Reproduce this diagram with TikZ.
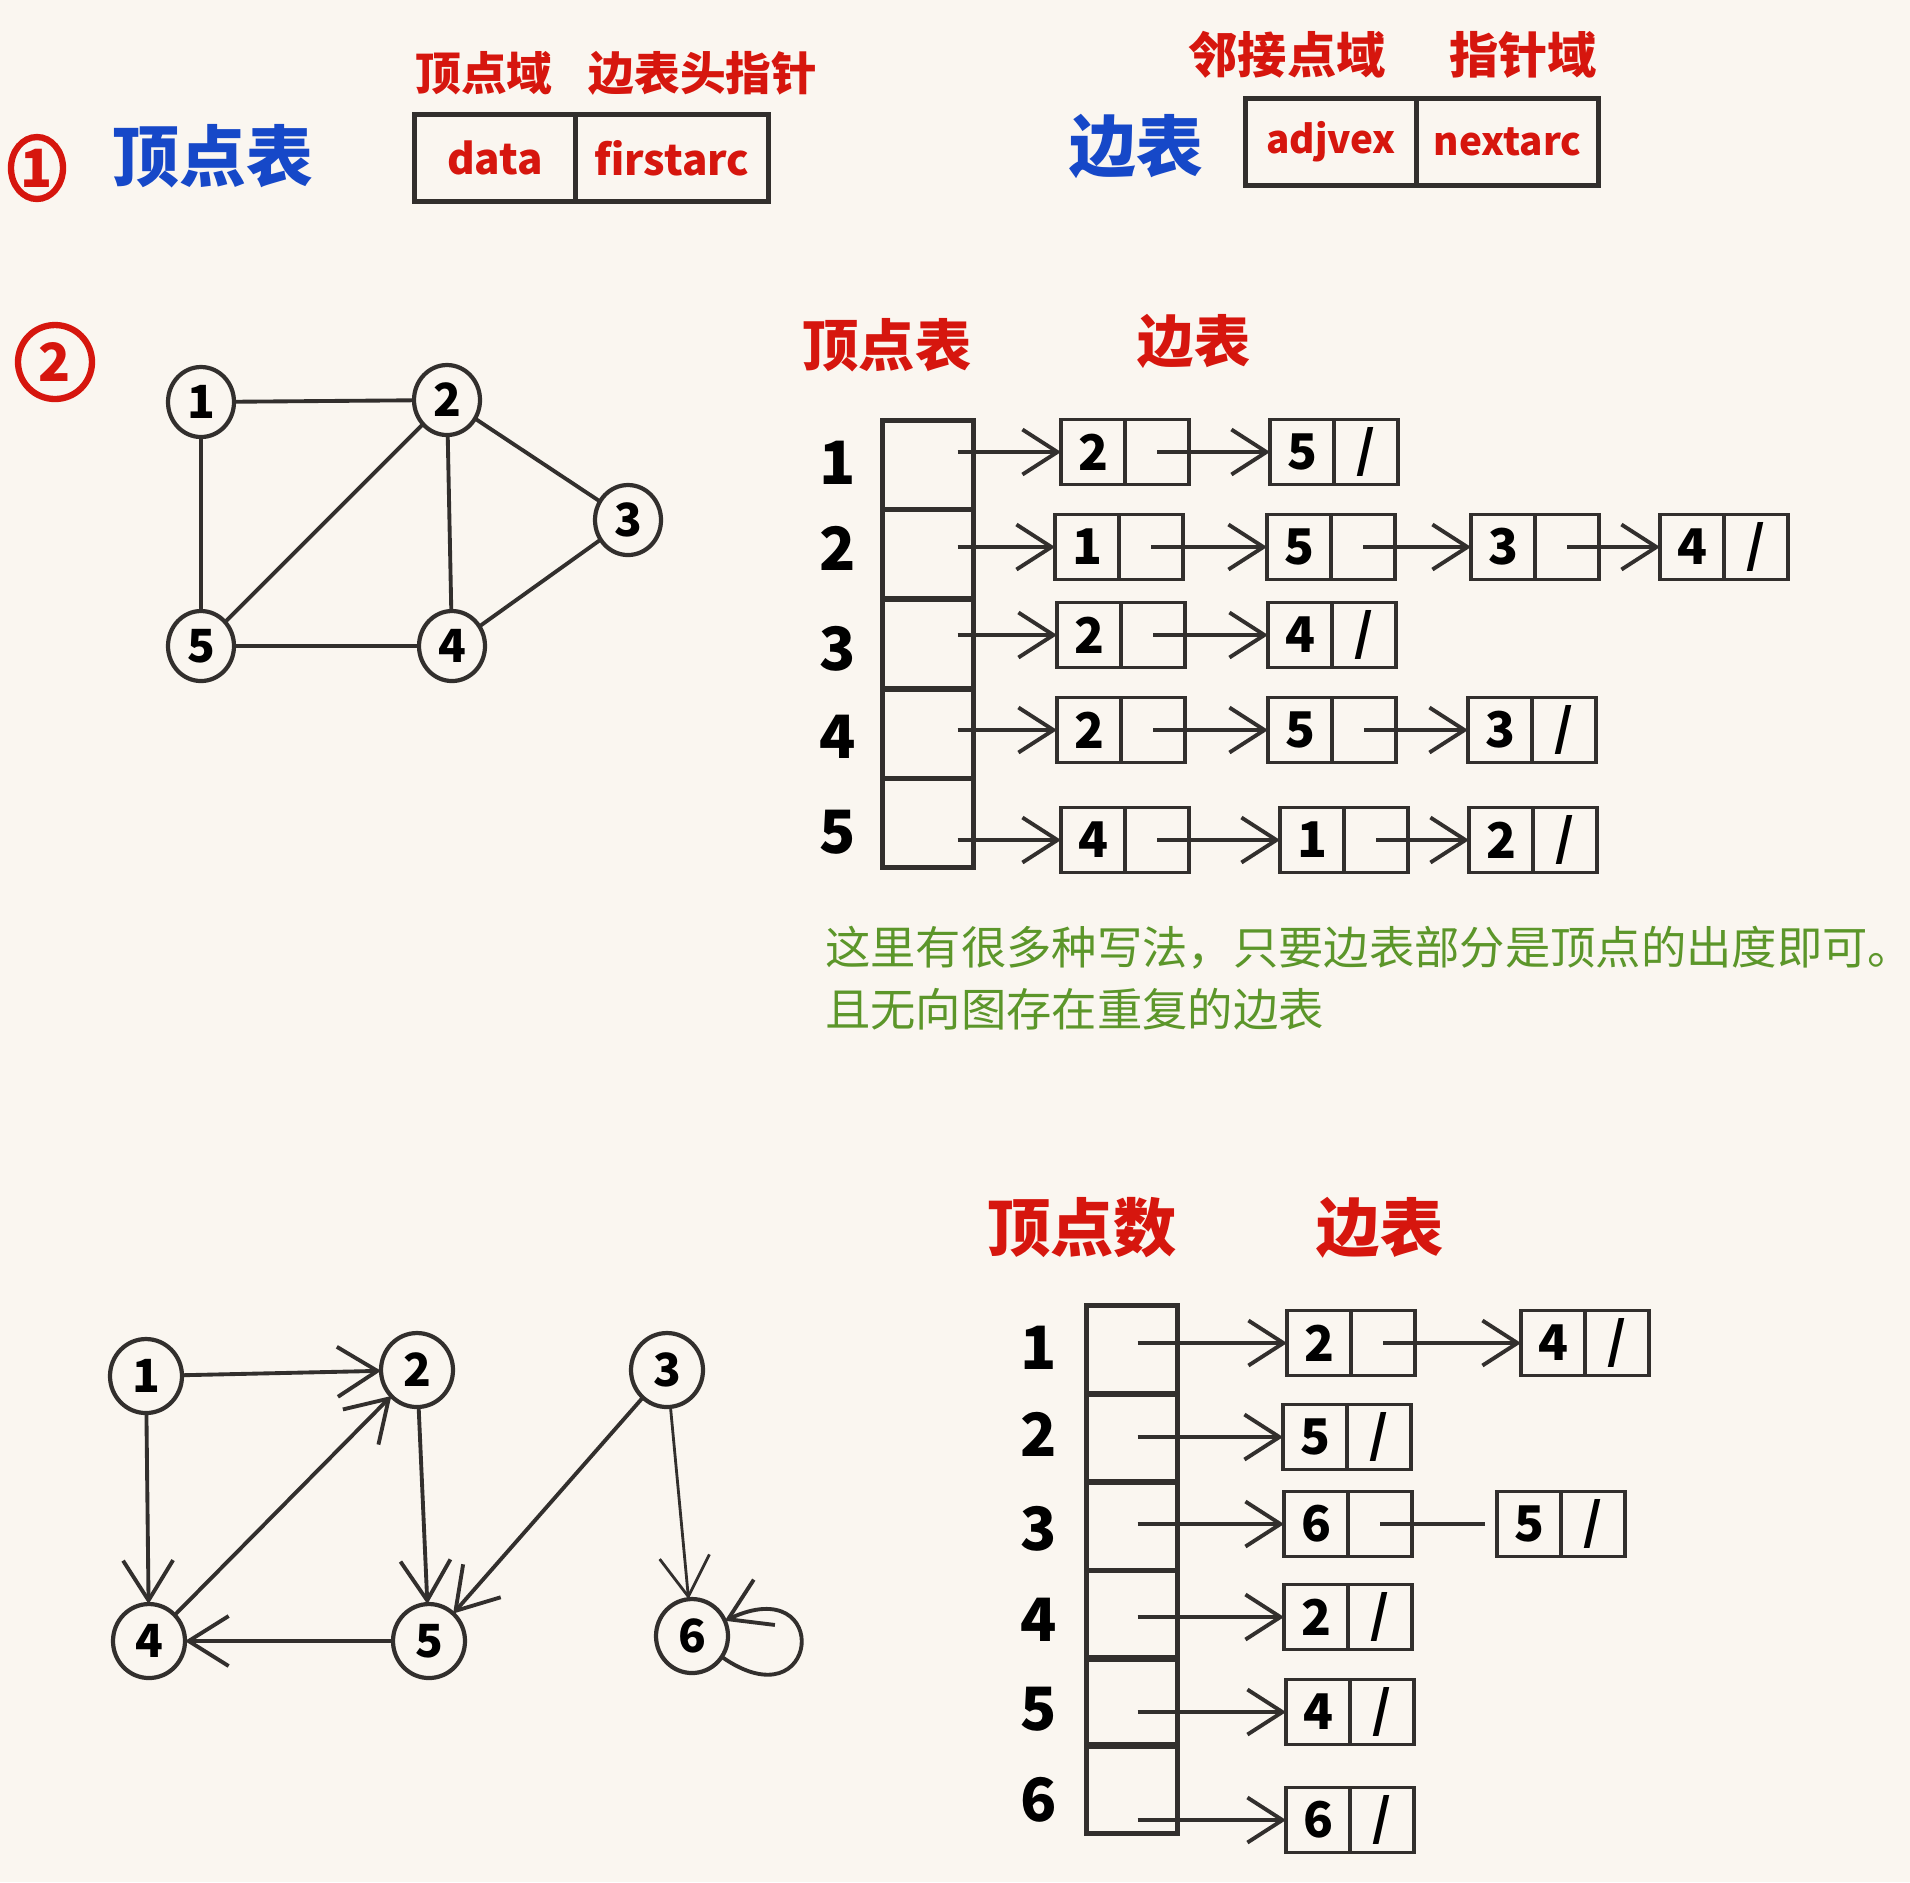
\documentclass[tikz,border=0pt]{standalone}
\usepackage{fontspec}
\setmainfont{Noto Sans CJK SC}
\usepackage{tikz}
\usetikzlibrary{arrows.meta,positioning,shapes.geometric}
\definecolor{Paper}{RGB}{250,246,240}
\definecolor{Ink}{RGB}{50,47,45}
\definecolor{HandRed}{RGB}{214,22,14}
\definecolor{HandBlue}{RGB}{22,72,200}
\definecolor{NoteGreen}{RGB}{92,150,42}
% one arc node: value cell and pointer cell side by side
\newcommand{\arcnode}[4]{%
  \node[tbox] (#1) at (#2) {#3};
  \node[tbox,right=0pt of #1] (#1n) {#4};}

\begin{document}
\begin{tikzpicture}[
  x=0.1mm,y=-0.1mm,
  every node/.style={inner sep=0pt,outer sep=0pt},
  tbox/.style={draw=Ink,line width=1.1pt,minimum width=6.4mm,minimum height=6.5mm,
               font=\fontsize{14}{14}\selectfont\bfseries},
  colcell/.style={draw=Ink,line width=1.2pt,minimum width=9.1mm,minimum height=8.9mm},
  hbox/.style={draw=Ink,line width=1.4pt,minimum height=8.7mm,text=HandRed,
               font=\fontsize{12}{12}\selectfont\bfseries},
  gnode/.style={ellipse,draw=Ink,line width=1.2pt,minimum width=6.6mm,minimum height=7mm,
                font=\fontsize{13}{13}\selectfont\bfseries},
  ring/.style={ellipse,draw=HandRed,line width=1.8pt,text=HandRed,
               font=\fontsize{15}{15}\selectfont\bfseries},
  rowtag/.style={font=\fontsize{17}{17}\selectfont\bfseries},
  redtag/.style={text=HandRed,font=\fontsize{13}{13}\selectfont\bfseries},
  redhead/.style={text=HandRed,font=\fontsize{17}{17}\selectfont\bfseries},
  bluehead/.style={text=HandBlue,font=\fontsize{19}{19}\selectfont\bfseries},
  note/.style={text=NoteGreen,align=left,font=\fontsize{12.9}{17.5}\selectfont},
  link/.style={draw=Ink,line width=1.1pt},
  arr/.style={link,-{Straight Barb[length=3.5mm,width=4.5mm]}},
  darr/.style={link,-{Straight Barb[length=4mm,width=5mm]}}]
  \fill[Paper] (0,0) rectangle (1910,1882);
  \useasboundingbox (0,0) rectangle (1910,1882);

  % part 1: node formats
  \node[ring,minimum width=5.2mm,minimum height=6.2mm] (one) at (37,168) {1};
  \node[bluehead] (vtitle) at (213,156) {顶点表};
  \node[hbox,minimum width=16.1mm] (data) at (495,158) {data};
  \node[hbox,minimum width=19.3mm,right=0pt of data] (firstarc) {firstarc};
  \node[redtag] (vdom) at (484,73) {顶点域};
  \node[redtag] (hptr) at (703,73) {边表头指针};
  \node[bluehead] (etitle) at (1136,146) {边表};
  \node[hbox,minimum width=17.1mm,font=\fontsize{11}{11}\selectfont\bfseries] (adjvex) at (1331,142) {adjvex};
  \node[hbox,minimum width=18.2mm,font=\fontsize{11}{11}\selectfont\bfseries,right=0pt of adjvex] (nextarc) {nextarc};
  \node[redtag,font=\fontsize{14}{14}\selectfont\bfseries] (adom) at (1287,55) {邻接点域};
  \node[redtag,font=\fontsize{14}{14}\selectfont\bfseries] (pdom) at (1523,55) {指针域};

  % part 2: undirected graph
  \node[ring,minimum size=7.4mm] (two) at (55,362) {2};
  \node[gnode] (u1) at (201,402) {1};
  \node[gnode] (u2) at (447,400) {2};
  \node[gnode] (u3) at (628,520) {3};
  \node[gnode] (u4) at (452,646) {4};
  \node[gnode] (u5) at (201,646) {5};
  \draw[link] (u1)--(u2) (u1)--(u5) (u2)--(u5) (u2)--(u4) (u2)--(u3) (u3)--(u4) (u5)--(u4);

  \node[redhead,font=\fontsize{16}{16}\selectfont\bfseries] (vhead) at (887,345) {顶点表};
  \node[redhead,font=\fontsize{16}{16}\selectfont\bfseries] (ehead) at (1194,341) {边表};
  \foreach \i/\y in {1/465,2/554,3/644,4/734,5/823}
    \node[colcell] (v\i) at (928,\y) {};
  \foreach \i/\y in {1/463,2/548,3/649,4/737,5/832}
    \node[rowtag] (l\i) at (838,\y) {\i};
  \arcnode{a11}{1093,452}{2}{}
  \arcnode{a12}{1302,452}{5}{/}
  \arcnode{a21}{1087,547}{1}{}
  \arcnode{a22}{1299,547}{5}{}
  \arcnode{a23}{1503,547}{3}{}
  \arcnode{a24}{1692,547}{4}{/}
  \arcnode{a31}{1089,635}{2}{}
  \arcnode{a32}{1300,635}{4}{/}
  \arcnode{a41}{1089,730}{2}{}
  \arcnode{a42}{1300,730}{5}{}
  \arcnode{a43}{1500,730}{3}{/}
  \arcnode{a51}{1093,840}{4}{}
  \arcnode{a52}{1312,840}{1}{}
  \arcnode{a53}{1501,840}{2}{/}
  \foreach \i in {1,...,5}
    \draw[arr,shorten <=-1.6mm] (v\i.east |- a\i1.west) -- (a\i1.west);
  \draw[arr] (a11n.center) -- (a12.west);
  \draw[arr] (a21n.center) -- (a22.west);
  \draw[arr] (a22n.center) -- (a23.west);
  \draw[arr] (a23n.center) -- (a24.west);
  \draw[arr] (a31n.center) -- (a32.west);
  \draw[arr] (a41n.center) -- (a42.west);
  \draw[arr] (a42n.center) -- (a43.west);
  \draw[arr] (a51n.center) -- (a52.west);
  \draw[arr] (a52n.center) -- (a53.west);

  \node[note,anchor=west] (remark) at (825,978)
    {这里有很多种写法，只要边表部分是顶点的出度即可。\\且无向图存在重复的边表};

  % part 3: directed graph
  \node[gnode,minimum width=7.2mm,minimum height=7.4mm] (d1) at (146,1376) {1};
  \node[gnode,minimum width=7.2mm,minimum height=7.4mm] (d2) at (417,1370) {2};
  \node[gnode,minimum width=7.2mm,minimum height=7.4mm] (d3) at (667,1370) {3};
  \node[gnode,minimum width=7.2mm,minimum height=7.4mm] (d4) at (149,1641) {4};
  \node[gnode,minimum width=7.2mm,minimum height=7.4mm] (d5) at (429,1641) {5};
  \node[gnode,minimum width=7.2mm,minimum height=7.4mm] (d6) at (692,1636) {6};
  \draw[darr] (d1) -- (d2);
  \draw[darr] (d1) -- (d4);
  \draw[darr] (d4) -- (d2);
  \draw[darr] (d2) -- (d5);
  \draw[darr] (d5) -- (d4);
  \draw[darr] (d3) -- (d5);
  \draw[darr,line width=0.8pt] (d3) -- (d6);
  \draw[darr] (d6) to[out=-35,in=25,min distance=12mm] (d6);

  \node[redhead,font=\fontsize{18}{18}\selectfont\bfseries] (nhead) at (1082,1228) {顶点数};
  \node[redhead,font=\fontsize{18}{18}\selectfont\bfseries] (bhead) at (1380,1228) {边表};
  \foreach \i/\y in {1/1350,2/1438,3/1526,4/1615,5/1702,6/1789}
    \node[colcell] (w\i) at (1132,\y) {};
  \foreach \i/\y in {1/1348,2/1434,3/1529,4/1620,5/1709,6/1800}
    \node[rowtag] (m\i) at (1039,\y) {\i};
  \arcnode{b11}{1319,1343}{2}{}
  \arcnode{b12}{1553,1343}{4}{/}
  \arcnode{b21}{1315,1437}{5}{/}
  \arcnode{b31}{1316,1524}{6}{}
  \arcnode{b32}{1529,1524}{5}{/}
  \arcnode{b41}{1316,1617}{2}{/}
  \arcnode{b51}{1318,1712}{4}{/}
  \arcnode{b61}{1318,1820}{6}{/}
  \foreach \i in {1,...,6}
    \draw[arr,shorten <=-4mm] (w\i.east |- b\i1.west) -- (b\i1.west);
  \draw[arr] (b11n.center) -- (b12.west);
  \draw[link,shorten >=1.2mm] (b31n.center) -- (b32.west);
\end{tikzpicture}
\end{document}
